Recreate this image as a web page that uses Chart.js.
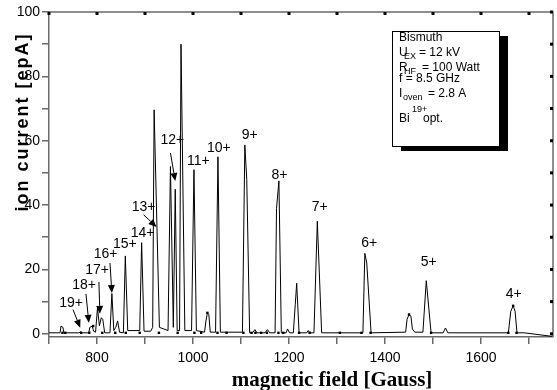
<!DOCTYPE html>
<html lang="en">
<head>
<meta charset="UTF-8">
<title>Bismuth charge state spectrum</title>
<style>
  html, body { margin: 0; padding: 0; background: #ffffff; }
  #wrap { width: 557px; height: 390px; }
</style>
<script src="https://cdn.jsdelivr.net/npm/chart.js@4/dist/chart.umd.min.js"></script>
</head>
<body>
<div id="wrap"><canvas id="chart" width="557" height="390"></canvas></div>
<script>
// spectrum: magnetic field [Gauss] -> ion current [epA]
const fieldGauss = [
  700, 723, 725, 729, 731, 762, 766, 770, 783, 785, 790, 793, 797, 801, 805, 809, 812, 816,
  827, 831, 835, 839, 843, 847, 855, 859, 864, 889, 893, 898, 912, 916, 919, 930,
  948, 953, 959, 963, 967, 972, 975, 983, 997, 1002, 1007, 1024, 1027, 1030, 1033, 1036,
  1047, 1052, 1057, 1103, 1108, 1112, 1118, 1124, 1129, 1133, 1150, 1155, 1160,
  1171, 1174, 1179, 1184, 1194, 1197, 1201, 1209, 1213, 1216, 1221, 1237, 1240, 1243,
  1252, 1259, 1268, 1354, 1358, 1362, 1371, 1443, 1446, 1450, 1454, 1457, 1462,
  1479, 1486, 1496, 1521, 1526, 1531, 1657, 1662, 1667, 1671, 1675, 1690, 1748
];
const currentEpA = [
  0.3, 0.3, 2.4, 2.0, 0.3, 0.3, 0.6, 0.3, 0.3, 2.0, 2.4, 0.8, 0.5, 8.0, 2.5, 5.0, 4.5, 0.3,
  0.3, 12.5, 1.0, 2.0, 4.0, 0.5, 0.3, 24.2, 1.0, 1.0, 28.3, 0.8, 0.8, 2.0, 69.6, 2.0,
  1.0, 52.0, 2.0, 44.9, 1.0, 1.0, 90.0, 1.0, 1.0, 51.0, 1.0, 0.5, 4.0, 6.5, 6.0, 0.5,
  0.5, 55.0, 0.5, 0.5, 58.7, 48.0, 0.3, 0.3, 1.3, 0.3, 0.3, 1.3, 0.3,
  0.3, 39.0, 47.5, 0.3, 0.3, 1.5, 0.3, 0.3, 9.0, 15.7, 0.3, 0.3, 1.0, 0.3,
  0.3, 35.0, 0.3, 0.3, 25.0, 22.0, 0.3, 0.5, 4.5, 6.0, 5.5, 1.5, 0.5,
  0.5, 16.5, 0.3, 0.3, 1.8, 0.3, 0.3, 7.0, 8.7, 7.0, 0.3, 0.3, -0.8
];

// measured points shown as small squares
const markerField = [728, 734, 767, 784, 792, 811, 838, 860, 889, 929, 968, 1003, 1017, 1030,
  1051, 1070, 1105, 1122, 1130, 1142, 1154, 1178, 1188, 1221, 1243, 1306, 1351, 1370,
  1450, 1496, 1657, 1667, 1674];
const markerCurrent = [0.3, 0.3, 0.3, 0.3, 2.4, 0.3, 0.3, 0.3, 0.3, 0.3, 0.3, 0.3, 0.3, 6.5,
  0.3, 0.3, 0.3, 0.3, 0.3, 0.3, 0.3, 0.3, 0.3, 0.3, 0.3, 0.3, 0.3, 0.3,
  6.0, 0.3, 0.3, 8.7, 0.3];

// charge state labels (position in data units)
const peakLabels = ['19+', '18+', '17+', '16+', '15+', '14+', '13+', '12+', '11+', '10+',
  '9+', '8+', '7+', '6+', '5+', '4+'];
const peakLabelField = [746, 773, 800, 818, 858, 895, 897, 957, 1011, 1054,
  1118, 1180, 1264, 1367, 1491, 1668];
const peakLabelCurrent = [9.6, 15.2, 19.9, 24.8, 28.0, 31.4, 39.4, 60.2, 53.7, 57.8,
  61.8, 49.4, 39.4, 28.3, 22.4, 12.4];

// arrows from some labels down to their peak
const arrowTailField = [750, 777, 804, 827, 897, 953];
const arrowTailCurrent = [7.5, 12.4, 16.1, 22.0, 37.0, 56.2];
const arrowTipField = [765, 783, 806, 831, 924, 963];
const arrowTipCurrent = [1.9, 3.4, 6.2, 12.7, 33.2, 47.5];

const xTickValues = [700, 800, 900, 1000, 1100, 1200, 1300, 1400, 1500, 1600, 1700];
const xTickLabels = [800, 1000, 1200, 1400, 1600];
const yTickValues = [0, 10, 20, 30, 40, 50, 60, 70, 80, 90, 100];
const yTickLabels = [0, 20, 40, 60, 80, 100];

const sans = '"Liberation Sans", Arial, sans-serif';
const serif = '"Liberation Serif", "Times New Roman", serif';
const axisGrey = '#6a6a6a';

function drawArrow(ctx, x1, y1, x2, y2) {
    const a = Math.atan2(y2 - y1, x2 - x1);
    const len = 8, half = 3.5;
    const bx = x2 - Math.cos(a) * len, by = y2 - Math.sin(a) * len;
    ctx.beginPath();
    ctx.moveTo(x1, y1);
    ctx.lineTo(bx, by);
    ctx.stroke();
    ctx.beginPath();
    ctx.moveTo(x2, y2);
    ctx.lineTo(bx - Math.sin(a) * half, by + Math.cos(a) * half);
    ctx.lineTo(bx + Math.sin(a) * half, by - Math.cos(a) * half);
    ctx.closePath();
    ctx.fill();
}

const decorations = {
    id: 'decorations',
    afterDatasetsDraw(chart) {
        const ctx = chart.ctx;
        const area = chart.chartArea;
        const xs = chart.scales.x, ys = chart.scales.y;
        ctx.save();

        // top and right frame with small inward ticks
        ctx.strokeStyle = axisGrey;
        ctx.lineWidth = 1.5;
        ctx.beginPath();
        ctx.moveTo(area.left, area.top);
        ctx.lineTo(area.right, area.top);
        ctx.lineTo(area.right, area.bottom);
        ctx.stroke();
        ctx.fillStyle = '#000';
        xTickValues.forEach(v => {
            ctx.fillRect(xs.getPixelForValue(v) - 1.5, area.top, 3, 3);
        });
        yTickValues.forEach(v => {
            ctx.fillRect(area.right - 3, ys.getPixelForValue(v) - 1.5, 3, 3);
        });

        // charge state labels
        ctx.font = '14px ' + sans;
        ctx.textAlign = 'center';
        ctx.textBaseline = 'middle';
        peakLabels.forEach((t, i) => {
            ctx.fillText(t, xs.getPixelForValue(peakLabelField[i]), ys.getPixelForValue(peakLabelCurrent[i]));
        });

        // arrows
        ctx.strokeStyle = '#000';
        ctx.lineWidth = 1;
        arrowTailField.forEach((f, i) => {
            drawArrow(ctx,
                xs.getPixelForValue(f), ys.getPixelForValue(arrowTailCurrent[i]),
                xs.getPixelForValue(arrowTipField[i]), ys.getPixelForValue(arrowTipCurrent[i]));
        });

        // info box with shadow
        const bx = 392, by = 31, bw = 107, bh = 115;
        ctx.fillStyle = '#000';
        ctx.fillRect(bx + 9, by + 5, bw, bh);
        ctx.fillStyle = '#fff';
        ctx.fillRect(bx, by, bw, bh);
        ctx.strokeStyle = '#000';
        ctx.lineWidth = 1;
        ctx.strokeRect(bx + 0.5, by + 0.5, bw, bh);

        ctx.fillStyle = '#000';
        ctx.textAlign = 'left';
        ctx.textBaseline = 'alphabetic';
        const big = '12px ' + sans, small = '9px ' + sans;
        const tx = 399;
        ctx.font = big;
        ctx.fillText('Bismuth', tx, 41);
        ctx.fillText('U', tx, 56);
        ctx.font = small; ctx.fillText('EX', tx + 5, 59);
        ctx.font = big; ctx.fillText('= 12 kV', tx + 20, 56);
        ctx.fillText('R', tx, 71);
        ctx.font = small; ctx.fillText('HF', tx + 5, 74);
        ctx.font = big; ctx.fillText('= 100 Watt', tx + 23, 71);
        ctx.fillText('f = 8.5 GHz', tx, 82);
        ctx.fillText('I', tx, 97);
        ctx.font = small; ctx.fillText('oven', tx + 4, 100);
        ctx.font = big; ctx.fillText('= 2.8 A', tx + 29, 97);
        ctx.fillText('Bi', tx, 122);
        ctx.font = small; ctx.fillText('19+', tx + 13, 112);
        ctx.font = big; ctx.fillText('opt.', tx + 24, 122);

        ctx.restore();
    },
    afterDraw(chart) {
        const ctx = chart.ctx;
        ctx.save();
        ctx.fillStyle = '#000';
        // x axis title
        ctx.font = 'bold 21px ' + serif;
        ctx.textAlign = 'center';
        ctx.textBaseline = 'alphabetic';
        ctx.fillText('magnetic field [Gauss]', 332, 386);
        // y axis title, drawn over the tick labels like the original
        ctx.translate(23, 122);
        ctx.rotate(-Math.PI / 2);
        ctx.font = 'bold 18px ' + sans;
        ctx.letterSpacing = '2px';
        ctx.textBaseline = 'middle';
        ctx.fillText('ion current [epA]', 0, 0);
        ctx.restore();
    }
};

const spectrum = fieldGauss.map((f, i) => ({ x: f, y: currentEpA[i] }));
const markers = markerField.map((f, i) => ({ x: f, y: markerCurrent[i] }));

new Chart(document.getElementById('chart'), {
    type: 'line',
    data: {
        datasets: [{
            label: 'ion current',
            data: spectrum,
            borderColor: '#000',
            borderWidth: 1,
            pointRadius: 0,
            tension: 0,
            fill: false
        }, {
            label: 'points',
            data: markers,
            showLine: false,
            pointStyle: 'rect',
            pointRadius: 1.7,
            backgroundColor: '#000',
            borderWidth: 0
        }]
    },
    options: {
        responsive: false,
        animation: false,
        layout: { padding: { top: 12, right: 1, left: 0, bottom: 0 } },
        plugins: {
            legend: { display: false },
            tooltip: { enabled: false }
        },
        scales: {
            x: {
                type: 'linear',
                min: 700,
                max: 1750,
                afterBuildTicks: s => { s.ticks = xTickValues.map(v => ({ value: v })); },
                afterFit: s => { s.height = 53; },
                ticks: {
                    autoSkip: false,
                    maxRotation: 0,
                    padding: 6,
                    color: '#000',
                    font: { family: sans, size: 14 },
                    callback: v => xTickLabels.includes(v) ? String(v) : ''
                },
                grid: { drawOnChartArea: false, drawTicks: true, tickLength: 7, color: axisGrey, lineWidth: 1.5 },
                border: { display: true, color: axisGrey, width: 1.5 }
            },
            y: {
                type: 'linear',
                min: -1,
                max: 100,
                afterBuildTicks: s => { s.ticks = yTickValues.map(v => ({ value: v })); },
                afterFit: s => { s.width = 49; },
                ticks: {
                    autoSkip: false,
                    padding: 2,
                    color: '#000',
                    font: { family: sans, size: 14 },
                    callback: v => yTickLabels.includes(v) ? String(v) : ''
                },
                grid: { drawOnChartArea: false, drawTicks: true, tickLength: 7, color: axisGrey, lineWidth: 1.5 },
                border: { display: true, color: axisGrey, width: 1.5 }
            }
        }
    },
    plugins: [decorations]
});
</script>
</body>
</html>
